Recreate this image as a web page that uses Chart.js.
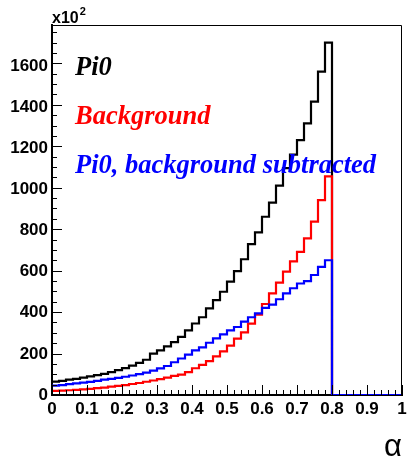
<!DOCTYPE html>
<html>
<head>
<meta charset="utf-8">
<script src="https://cdn.jsdelivr.net/npm/chart.js@4.4.1/dist/chart.umd.min.js"></script>
<style>
  html, body { margin: 0; padding: 0; background: #ffffff; }
  #wrap { width: 407px; height: 462px; }
</style>
</head>
<body>
<div id="wrap"><canvas id="c" width="407" height="462"></canvas></div>
<script>
// ---- data (values in units of 10^2, as on the axis) ----
const xMin = 0;
const xMax = 1;
const binWidth = 0.02;
const xTickLabels = ['0', '0.1', '0.2', '0.3', '0.4', '0.5', '0.6', '0.7', '0.8', '0.9', '1'];
const yTickLabels = ['0', '200', '400', '600', '800', '1000', '1200', '1400', '1600'];
const seriesNames = ['Pi0', 'Background', 'Pi0, background subtracted'];
const seriesColors = ['#000000', '#ff0000', '#0000ff'];

const pi0 = [65, 68, 74, 78, 84, 90, 96, 102, 110, 120,
             130, 142, 155, 170, 200, 215, 235, 255, 280, 312,
             345, 375, 418, 458, 498, 547, 598, 655, 728, 785,
             860, 928, 1010, 1095, 1160, 1230, 1310, 1415, 1560, 1700,
             0, 0, 0, 0, 0, 0, 0, 0, 0, 0];
const background = [20, 21, 23, 25, 27, 30, 33, 36, 40, 44,
                    48, 53, 58, 64, 70, 77, 84, 92, 98, 110,
                    129, 145, 163, 186, 210, 238, 272, 302, 344, 388,
                    439, 490, 542, 595, 645, 690, 756, 836, 940, 1055,
                    0, 0, 0, 0, 0, 0, 0, 0, 0, 0];
const subtracted = [45, 48, 52, 56, 60, 63, 68, 74, 78, 83,
                    88, 94, 101, 108, 118, 128, 140, 158, 176, 195,
                    215, 230, 252, 273, 292, 312, 328, 354, 375, 394,
                    420, 436, 462, 490, 515, 538, 549, 579, 618, 650,
                    0, 0, 0, 0, 0, 0, 0, 0, 0, 0];
const yMax = 1785;

// histogram outline: one point per bin low edge + closing point at upper edge
function toSteps(vals) {
  const pts = vals.map((v, i) => ({ x: xMin + i * binWidth, y: v }));
  pts.push({ x: xMax, y: vals[vals.length - 1] });
  return pts;
}

const seriesValues = [pi0, background, subtracted];
const datasets = seriesValues.map((vals, k) => ({
  label: seriesNames[k],
  data: toSteps(vals),
  borderColor: seriesColors[k],
  borderWidth: 2.2,
  stepped: 'before',
  pointRadius: 0,
  fill: false,
  tension: 0,
  order: 3 - k
}));

const decor = {
  id: 'decor',
  afterDraw(chart) {
    const ctx = chart.ctx;
    const a = chart.chartArea;
    const xs = chart.scales.x, ys = chart.scales.y;
    ctx.save();
    // frame (top / right)
    ctx.strokeStyle = '#000';
    ctx.lineWidth = 1;
    ctx.beginPath();
    ctx.moveTo(a.left, a.top + 0.5);
    ctx.lineTo(a.right - 0.5, a.top + 0.5);
    ctx.lineTo(a.right - 0.5, a.bottom);
    ctx.stroke();
    // inward ticks
    ctx.lineWidth = 1;
    ctx.beginPath();
    for (let i = 0; i <= 50; i++) {
      const v = i * 0.02;
      const px = Math.round(xs.getPixelForValue(v)) + 0.5;
      const len = (i % 5 === 0) ? 10 : 5;
      ctx.moveTo(px, a.bottom);
      ctx.lineTo(px, a.bottom - len);
    }
    for (let v = 0; v < yMax; v += 50) {
      const py = Math.round(ys.getPixelForValue(v)) + 0.5;
      const len = (v % 200 === 0) ? 10 : 5;
      ctx.moveTo(a.left, py);
      ctx.lineTo(a.left + len, py);
    }
    ctx.stroke();
    // exponent label
    ctx.fillStyle = '#000';
    ctx.textBaseline = 'alphabetic';
    ctx.textAlign = 'left';
    ctx.font = 'bold 16px "Liberation Sans"';
    ctx.fillText('x10', 52, 23);
    const w = ctx.measureText('x10').width;
    ctx.font = 'bold 11px "Liberation Sans"';
    ctx.fillText('2', 52 + w + 1, 15);
    // axis title
    ctx.font = '31px "Liberation Sans"';
    ctx.textAlign = 'right';
    ctx.fillText('\u03b1', 402, 456);
    // legend texts
    ctx.textAlign = 'left';
    ctx.font = 'italic bold 26.5px "Liberation Serif"';
    const baselines = [75, 123.5, 172.5];
    seriesNames.forEach((n, k) => {
      ctx.fillStyle = seriesColors[k];
      ctx.fillText(n, 75, baselines[k]);
    });
    ctx.restore();
  }
};

new Chart(document.getElementById('c'), {
  type: 'line',
  data: { datasets },
  options: {
    responsive: false,
    animation: false,
    devicePixelRatio: 1,
    layout: { padding: { top: 25, right: 5, left: 0, bottom: 0 } },
    plugins: { legend: { display: false }, tooltip: { enabled: false } },
    scales: {
      x: {
        type: 'linear',
        min: xMin, max: xMax,
        grid: { display: true, drawOnChartArea: false, drawTicks: false },
        border: { display: true, color: '#000', width: 2 },
        ticks: {
          stepSize: 0.1, includeBounds: false, padding: 4, maxRotation: 0, autoSkip: false,
          color: '#000', font: { family: '"Liberation Sans"', weight: 'bold', size: 17 },
          callback: (v) => xTickLabels[Math.round(v * 10)]
        },
        afterFit: (s) => { s.height = 67; s.paddingRight = 0; s.paddingLeft = 0; }
      },
      y: {
        type: 'linear',
        min: 0, max: yMax,
        grid: { display: true, drawOnChartArea: false, drawTicks: false },
        border: { display: true, color: '#000', width: 2 },
        ticks: {
          stepSize: 200, includeBounds: false, padding: 4, autoSkip: false,
          color: '#000', font: { family: '"Liberation Sans"', weight: 'bold', size: 17 },
          callback: (v) => yTickLabels[Math.round(v / 200)]
        },
        afterFit: (s) => { s.width = 52; s.paddingTop = 0; s.paddingBottom = 0; }
      }
    }
  },
  plugins: [decor]
});
</script>
</body>
</html>
